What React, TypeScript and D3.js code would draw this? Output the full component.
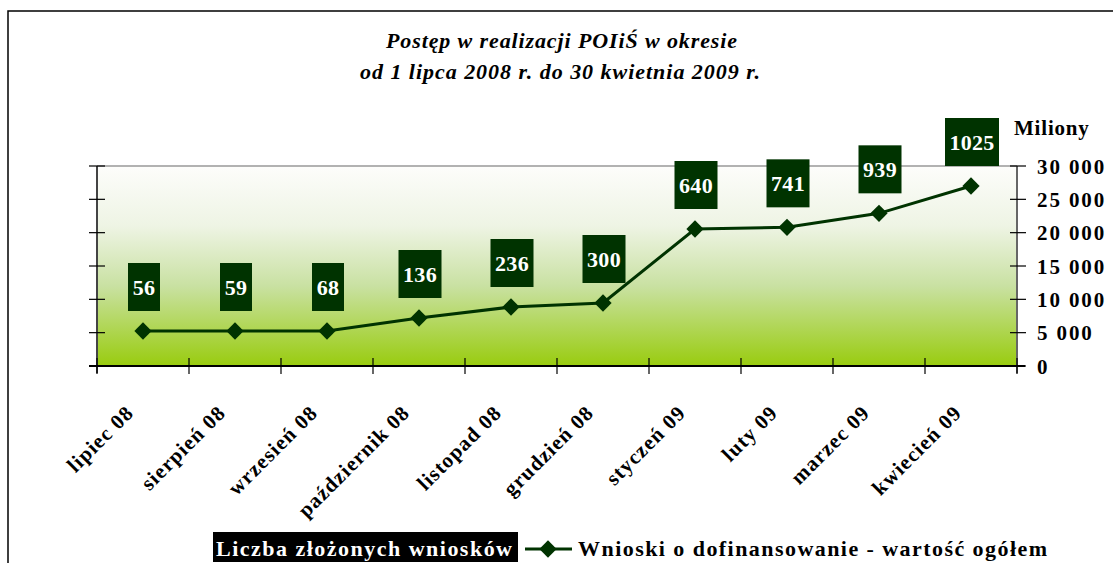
import React from "react";
import * as d3 from "d3";

const categories = [
  "lipiec 08",
  "sierpień 08",
  "wrzesień 08",
  "październik 08",
  "listopad 08",
  "grudzień 08",
  "styczeń 09",
  "luty 09",
  "marzec 09",
  "kwiecień 09",
];
// Wnioski o dofinansowanie - wartość ogółem (mln)
const valueSeries = [5250, 5250, 5250, 7200, 8850, 9450, 20550, 20800, 22900, 27000];
// Liczba złożonych wniosków
const countSeries = [56, 59, 68, 136, 236, 300, 640, 741, 939, 1025];
const yTicks = [0, 5000, 10000, 15000, 20000, 25000, 30000];

const W = 1113;
const H = 563;
const plot = { left: 97, right: 1017, top: 166, bottom: 366 };
const SERIF = "Liberation Serif, DejaVu Serif, serif";
const DARK = "#003300";

const fmt = (v: number) => d3.format(",")(v).replace(/,/g, " ");

export default function App() {
  const x = d3.scaleBand<string>().domain(categories).range([plot.left, plot.right]);
  const y = d3.scaleLinear().domain([0, 30000]).range([plot.bottom, plot.top]);
  const cx = (i: number) => (x(categories[i]) as number) + x.bandwidth() / 2;

  const line = d3
    .line<number>()
    .x((_, i) => cx(i))
    .y((d) => y(d));

  const diamond = d3.symbol(d3.symbolDiamond2, 190)() as string;

  const boundaries = categories.map((c) => x(c) as number).concat([plot.right]);

  return (
    <svg
      width={W}
      height={H}
      style={{ position: "absolute", left: 0, top: 0, background: "#fff", fontFamily: SERIF }}
    >
      <defs>
        <linearGradient id="bg" x1="0" y1="0" x2="0" y2="1">
          <stop offset="0" stopColor="#fdfdfb" />
          <stop offset="0.3" stopColor="#eef4e4" />
          <stop offset="0.6" stopColor="#c9e1a2" />
          <stop offset="1" stopColor="#99cc0f" />
        </linearGradient>
      </defs>

      {/* outer frame */}
      <rect x={8} y={11} width={W + 20} height={H + 20} fill="none" stroke="#000" strokeWidth={1.5} />

      {/* title */}
      <text x={386} y={48} textLength={351} lengthAdjust="spacing" fontSize={22} fontWeight="bold" fontStyle="italic">
        Postęp w realizacji POIiŚ w okresie
      </text>
      <text x={360} y={79} textLength={400} lengthAdjust="spacing" fontSize={22} fontWeight="bold" fontStyle="italic">
        od 1 lipca 2008 r. do 30 kwietnia 2009 r.
      </text>

      {/* plot area */}
      <rect
        x={plot.left}
        y={plot.top}
        width={plot.right - plot.left}
        height={plot.bottom - plot.top}
        fill="url(#bg)"
      />
      <line x1={plot.left} x2={plot.right} y1={plot.top} y2={plot.top} stroke="#999" strokeWidth={1.5} />

      {/* left axis */}
      <line x1={plot.left} x2={plot.left} y1={plot.top} y2={plot.bottom + 7} stroke="#444" strokeWidth={2} />
      {yTicks.map((t) => (
        <line key={"lt" + t} x1={plot.left - 8} x2={plot.left + 8} y1={y(t)} y2={y(t)} stroke="#000" strokeWidth={1.2} />
      ))}

      {/* right axis */}
      <line x1={plot.right} x2={plot.right} y1={plot.top} y2={plot.bottom + 7} stroke="#666" strokeWidth={2} />
      {yTicks.map((t) => (
        <g key={"rt" + t}>
          <line x1={plot.right - 7} x2={plot.right + 9} y1={y(t)} y2={y(t)} stroke="#000" strokeWidth={1.2} />
          <text x={1037} y={y(t)} dy="0.36em" fontSize={21} fontWeight="bold" letterSpacing={1.9}>
            {fmt(t)}
          </text>
        </g>
      ))}
      <text x={1014} y={135} fontSize={21} fontWeight="bold" letterSpacing={0.8}>
        Miliony
      </text>

      {/* bottom axis */}
      <line x1={plot.left - 8} x2={plot.right + 8} y1={plot.bottom} y2={plot.bottom} stroke="#000" strokeWidth={2} />
      {boundaries.map((b, i) => (
        <line key={"bt" + i} x1={b} x2={b} y1={plot.bottom - 8} y2={plot.bottom + 8} stroke="#000" strokeWidth={1.2} />
      ))}
      {categories.map((c, i) => (
        <text
          key={c}
          transform={`translate(${cx(i) - 8},${plot.bottom + 48}) rotate(-45)`}
          textAnchor="end"
          fontSize={21}
          fontWeight="bold"
          letterSpacing={1.1}
        >
          {c}
        </text>
      ))}

      {/* line series */}
      <path d={line(valueSeries) as string} fill="none" stroke={DARK} strokeWidth={3} />
      {valueSeries.map((v, i) => (
        <path key={"d" + i} d={diamond} transform={`translate(${cx(i)},${y(v)})`} fill={DARK} />
      ))}

      {/* count labels */}
      {countSeries.map((n, i) => {
        const s = String(n);
        const bw = s.length * 11 + 10;
        const by = y(valueSeries[i]) - 44;
        return (
          <g key={"l" + i}>
            <rect x={cx(i) - bw / 2 + 1} y={by - 24} width={bw} height={48} fill={DARK} />
            <text x={cx(i) + 1} y={by} dy="0.35em" textAnchor="middle" fill="#fff" fontSize={22} fontWeight="bold" letterSpacing={0.3}>
              {s}
            </text>
          </g>
        );
      })}

      {/* legend */}
      <rect x={213} y={532} width={305} height={30} fill="#000" />
      <text x={216} y={556} textLength={296} lengthAdjust="spacing" fill="#fff" fontSize={22} fontWeight="bold">
        Liczba złożonych wniosków
      </text>
      <line x1={525} x2={572} y1={549} y2={549} stroke={DARK} strokeWidth={3} />
      <path d={diamond} transform="translate(548,549)" fill={DARK} />
      <text x={578} y={556} textLength={469} lengthAdjust="spacing" fontSize={22} fontWeight="bold">
        Wnioski o dofinansowanie - wartość ogółem
      </text>
    </svg>
  );
}
